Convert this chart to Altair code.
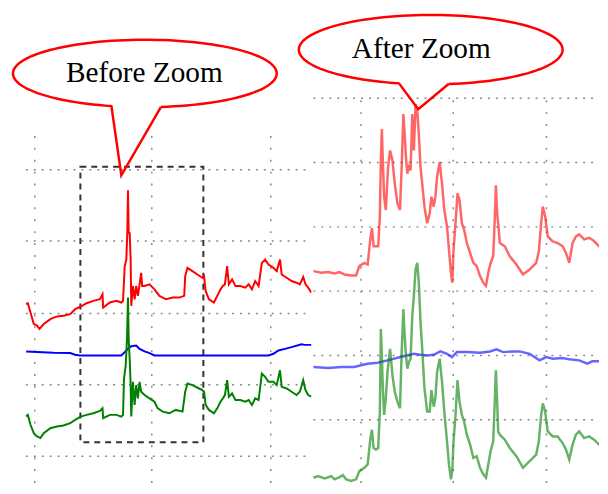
import numpy as np
import pandas as pd
import altair as alt

# ---------------- LEFT PANEL ("Before Zoom") data: time index, amplitude ----------------
L_red_t = [0.3, 2, 4.7, 8, 11.3, 13.7, 18, 24.7, 31.3, 38, 44.7, 49.7, 55.3, 61.3, 68, 74.7, 77.3, 78, 84.7, 91.3,
           96.3, 98, 99.7, 101.3, 102.3, 103, 103.7, 104.7, 105.7, 106.3, 108, 109.7, 111.3, 113, 114.7, 116.3, 117.3,
           119.7, 124.7, 129.7, 134.7, 141.3, 148, 154.7, 159.7, 160.7, 163, 168, 173, 178, 179.7, 181.3, 184.7,
           189.7, 193, 196.3, 198.7, 200.7, 203, 204.7, 208, 211.3, 216.3, 221.3, 224.7, 228, 231.3, 234.7, 238,
           241.3, 244.7, 249.7, 253, 256.3, 258, 263, 268, 273, 276.3, 279.7, 282, 284.7, 288]
L_red_v = [153.3, 154.3, 145, 133.3, 131.7, 128.3, 133.3, 138.3, 141, 141.7, 143.3, 148.3, 151, 154.3, 156.7, 158.3,
           163.3, 150, 155, 156.7, 155, 156.7, 191.7, 198.3, 225, 268.3, 225, 225, 198.3, 151.7, 171.7, 158.3, 171.7,
           161.7, 173.3, 185, 171.7, 171.7, 173.3, 168.3, 161.7, 158.3, 160, 160, 161.7, 181.7, 190, 186.7, 183.3,
           180, 181.7, 166.7, 158.3, 155, 161.7, 168.3, 171.7, 173.3, 191.7, 173.3, 178.3, 171.7, 171.7, 170, 173.3,
           168.3, 176.7, 171.7, 195, 198.3, 193.3, 190, 186.7, 198.3, 183.3, 180, 176.7, 175, 173.3, 180.7, 173.3,
           170, 165]

L_green_t = [0.3, 2, 4.7, 8, 11.3, 14.7, 18, 24.7, 31.3, 38, 44.7, 49.7, 55.3, 61.3, 68, 74.7, 77.3, 78, 84.7, 91.3,
             96.3, 98, 99, 100.7, 102, 103, 103.7, 104.7, 105.7, 106.3, 108, 109.7, 111.3, 113, 114.7, 116.3, 119.7,
             124.7, 129.7, 133, 138, 144.7, 151.3, 158, 160.7, 163, 168, 174.7, 178, 179.7, 181.3, 184.7, 189.7, 193,
             196.3, 198.7, 200.7, 203, 204.7, 208, 211.3, 216.3, 221.3, 224.7, 228, 231.3, 234.7, 238, 241.3, 244.7,
             249.7, 253, 256.3, 258, 263, 268, 273, 276.3, 279.7, 282, 284.7, 288]
L_green_v = [40, 41.7, 31.7, 23.3, 20, 18.3, 23.3, 28.3, 30, 31, 33.3, 36.7, 40, 41.7, 43.3, 45.7, 48.3, 38.3, 41.7,
             41.7, 40, 41.7, 78.3, 91.7, 118.3, 160, 118.3, 98.3, 71.7, 40, 75, 51.7, 71.7, 58.3, 75, 65, 61.7, 58.3,
             55, 48.3, 45, 43.3, 46.7, 45, 65, 73.3, 71.7, 68.3, 66.7, 65, 51.7, 46.7, 43.3, 48.3, 55, 58.3, 61.7,
             76.7, 60, 63.3, 56.7, 56.7, 55, 56.7, 51.7, 58.3, 56.7, 83.3, 80, 75, 75, 71.7, 86.7, 70, 68.3, 65, 61.7,
             65, 76.7, 66.7, 61.7, 60]

L_blue_t = [0.3, 11.3, 28, 44.7, 49.7, 54.7, 78, 96.3, 99.7, 103, 106.3, 111.3, 114.7, 119.7, 124.7, 129.7, 144.7,
            178, 211.3, 244.7, 249.7, 254.7, 261.3, 268, 278, 281.3, 288]
L_blue_v = [105.7, 105, 104.3, 104, 102.3, 101.7, 101.7, 101.7, 105, 108.3, 111, 111.7, 108.3, 105.7, 104, 101.7,
            101.7, 101.7, 101.7, 101.7, 103.3, 106.7, 108.3, 110, 113, 112.3, 112.3]

L_grid_x = [9, 127, 247]
L_grid_y = [0, 72, 144, 217, 289]
L_zoom_box = {"t1": 55, "t2": 179, "a1": 14, "a2": 292}

# ---------------- RIGHT PANEL ("After Zoom") data ----------------
R_red_t = [0, 8, 14.7, 21.3, 26.3, 31.3, 38, 43, 46.3, 51.3, 54.7, 57.3, 59, 60.7, 63, 65.3, 67, 68, 69, 70, 71.3,
           73, 75.3, 77.3, 79.7, 82, 84.7, 87.3, 89, 90.7, 92, 93.3, 94.7, 96.3, 98, 99.7, 101.3, 103, 104.7, 106.3,
           108, 109.7, 112, 114.7, 117.3, 119, 121.3, 123, 124.7, 127.3, 129.7, 132, 134.7, 136.7, 138.7, 140,
           141.3, 143.3, 145.3, 147.3, 149.7, 152, 154.7, 158, 161.3, 164.7, 168, 171.3, 174, 176.3, 178.7, 181.3,
           183, 184, 185.3, 186.3, 188, 193, 198, 204.7, 211.3, 218, 224.7, 227.3, 229.7, 231.3, 233.7, 236.3,
           241.3, 246.3, 251.3, 254.7, 258, 261.3, 264.7, 268, 273, 278, 283, 288, 293, 296]
R_red_v = [214.7, 213, 213.7, 212.3, 213.7, 211.3, 210.3, 210.3, 219.7, 223, 221.3, 246.3, 258, 239.7, 239.7, 239.7,
           269.7, 326.3, 358, 326.3, 289.7, 276.3, 319.7, 336.3, 326.3, 303, 283, 276.3, 319.7, 373, 353, 329.7, 313,
           319.7, 316.3, 373, 336.3, 383, 376.3, 353, 319.7, 303, 279.7, 263, 273, 289.7, 279.7, 289.7, 309.7, 324.7,
           303, 276.3, 259.7, 236.3, 213, 203, 236.3, 263, 293, 286.3, 263, 256.3, 243, 233, 223, 219.7, 209.7, 203,
           199.7, 213, 223, 229.7, 269.7, 301.3, 273, 263, 243, 239.7, 229.7, 221.3, 211.3, 216.3, 223, 234.7, 263,
           279.7, 269.7, 249.7, 244.7, 243, 239.7, 233, 223, 243, 249.7, 251.7, 246.7, 248.3, 245, 239.7, 239.7,
           241.3]

R_green_t = [0, 4.7, 11.3, 18, 21.3, 26.3, 29.7, 33, 38, 43, 46.3, 51.3, 54.7, 57.3, 59, 60.7, 63, 65.3, 67, 68, 69,
             70, 71.3, 73, 74.7, 77.3, 79.7, 82, 84.7, 87.3, 89, 90.7, 92, 93.3, 94.7, 96.3, 98, 99.7, 101.3, 103,
             104.7, 106.3, 108, 109.7, 112, 114.7, 117.3, 119, 121.3, 123, 124.7, 127.3, 129.7, 132, 134.7, 136.7,
             138.7, 140, 141.3, 143.3, 145.3, 147.3, 149.7, 152, 154.7, 158, 161.3, 164.7, 168, 171.3, 174, 176.3,
             178.7, 181.3, 183, 184, 185.3, 186.3, 188, 193, 198, 204.7, 211.3, 218, 224.7, 227.3, 229.7, 231.3,
             233.7, 236.3, 241.3, 246.3, 251.3, 254.7, 258, 261.3, 264.7, 268, 273, 278, 283, 288, 293, 296]
R_green_v = [6.3, 8, 5.7, 8, 4.7, 7, 9, 4.7, 3, 4.7, 13, 16.3, 19.7, 44.7, 54.7, 36.3, 34.7, 36.3, 73, 156.3, 129.7,
             96.3, 69.7, 86.3, 113, 136.3, 109.7, 93, 83, 76.3, 133, 176.3, 149.7, 129.7, 116.3, 123, 126.3, 169.7,
             189.7, 216.3, 223, 203, 163, 136.3, 96.3, 73, 73, 94.7, 78, 86.3, 113, 126.3, 103, 73, 43, 19.7, 4.7,
             13, 43, 69.7, 104.7, 83, 69.7, 63, 49.7, 39.7, 26.3, 28, 16.3, 9.7, 6.3, 19.7, 33, 43, 86.3, 114.7,
             83, 53, 49.7, 44.7, 36.3, 28, 16.3, 23, 29.7, 43, 69.7, 81.3, 73, 53, 48, 48, 41.3, 34.7, 24.7, 39.7,
             49.7, 53, 46.3, 48, 44.7, 39.7, 39.7, 41.3]

R_blue_t = [0, 14.7, 28, 41.3, 48, 54.7, 64.7, 74.7, 88, 101.3, 108, 114.7, 121.3, 128, 134.7, 139.7, 144.7, 154.7,
            168, 178, 184.7, 191.3, 201.3, 208, 218, 228, 234.7, 241.3, 251.3, 258, 268, 276.3, 281.3, 296]
R_blue_v = [118, 117, 118, 118, 119.7, 121.3, 122.3, 124.7, 128, 131.3, 130.3, 129.7, 130.3, 133.7, 131.3, 128, 133,
            133, 132.3, 133.7, 135.7, 133, 133.7, 133.7, 131.3, 124.7, 128, 126.3, 127, 125.7, 124.7, 121.3, 123.7,
            123.7]

R_grid_x = [48, 141, 235]
R_grid_y = [64.8, 129.7, 194.5, 259.3, 324.2, 389]

LABELS = ["Before Zoom", "After Zoom"]

# ---------------- helpers ----------------
def series_df(pairs):
    frames = []
    for name, ts, vs in pairs:
        frames.append(pd.DataFrame({"t": ts, "v": vs, "s": name}))
    return pd.concat(frames, ignore_index=True)


def bubble(cx, cy, rx, ry, base_right, base_left, tip):
    # speech bubble outline: ellipse arc between the two pointer bases, then the pointer
    th0 = -np.arccos((base_right - cx) / rx)
    th1 = -np.arccos((base_left - cx) / rx) + 2 * np.pi
    th = np.linspace(th0, th1, 120)
    xs = list(cx + rx * np.cos(th)) + [tip[0], cx + rx * np.cos(th0)]
    ys = list(cy + ry * np.sin(th)) + [tip[1], cy + ry * np.sin(th0)]
    return pd.DataFrame({"t": xs, "v": ys, "i": range(len(xs))})


COLORS = alt.Scale(domain=["red", "blue", "green"], range=["#ff0000", "#0000ff", "#008000"])
GRID = "#8a8a8a"
H = 474


def panel(xdom, ydom, width, lines, gx, gy, gx_top, g_xmax, line_w, line_op, bub, text_pos, label, box=None):
    X = alt.X("t:Q", scale=alt.Scale(domain=xdom, nice=False, zero=False), axis=None)
    Y = alt.Y("v:Q", scale=alt.Scale(domain=ydom, nice=False, zero=False), axis=None)

    hgrid = alt.Chart(pd.DataFrame({"v": gy, "t": 0, "t2": g_xmax})).mark_rule(
        color=GRID, strokeDash=[2, 6], strokeWidth=1.5
    ).encode(y=Y, x=X, x2="t2:Q")
    vgrid = alt.Chart(pd.DataFrame({"t": gx, "v": ydom[0], "v2": gx_top})).mark_rule(
        color=GRID, strokeDash=[2, 10], strokeWidth=1.5
    ).encode(x=X, y=Y, y2="v2:Q")

    layers = [hgrid, vgrid]
    if box is not None:
        layers.append(
            alt.Chart(pd.DataFrame({"t": [box["t1"]], "t2": [box["t2"]], "v": [box["a1"]], "v2": [box["a2"]]}))
            .mark_rect(fillOpacity=0, stroke="#333333", strokeWidth=2, strokeDash=[6, 5])
            .encode(x=X, x2="t2:Q", y=Y, y2="v2:Q")
        )
    layers.append(
        alt.Chart(lines).mark_line(strokeWidth=line_w, opacity=line_op, clip=True).encode(
            x=X, y=Y, color=alt.Color("s:N", scale=COLORS, legend=None), order="t:Q"
        )
    )
    layers.append(
        alt.Chart(bub).mark_line(color="#ff0000", strokeWidth=2.5, strokeJoin="miter").encode(x=X, y=Y, order="i:Q")
    )
    layers.append(
        alt.Chart(pd.DataFrame({"t": [text_pos[0]], "v": [text_pos[1]], "label": [label]}))
        .mark_text(font="Liberation Serif", fontSize=29.5, color="black", align="center", baseline="alphabetic")
        .encode(x=X, y=Y, text="label:N")
    )
    return alt.layer(*layers).properties(width=width, height=H)


left_lines = series_df([("red", L_red_t, L_red_v), ("blue", L_blue_t, L_blue_v), ("green", L_green_t, L_green_v)])
right_lines = series_df([("red", R_red_t, R_red_v), ("blue", R_blue_t, R_blue_v), ("green", R_green_t, R_green_v)])

left = panel(
    xdom=[-14, 288], ydom=[-27, 447], width=302, lines=left_lines, gx=L_grid_x, gy=L_grid_y, gx_top=327,
    g_xmax=288, line_w=2, line_op=1.0,
    bub=bubble(120, 386, 133, 34, 136.3, 86.3, (96.3, 283.3)), text_pos=(119.5, 377), label=LABELS[0],
    box=L_zoom_box,
)
right = panel(
    xdom=[-2, 288], ydom=[1, 475], width=290, lines=right_lines, gx=R_grid_x, gy=R_grid_y, gx_top=395,
    g_xmax=288, line_w=2.5, line_op=0.6,
    bub=bubble(118.3, 438, 133, 35, 136.3, 86.3, (105.7, 378)), text_pos=(108.8, 429.7), label=LABELS[1],
)

chart = (
    alt.hconcat(left, right, spacing=0, bounds="flush")
    .properties(padding=0)
    .configure_view(stroke=None)
)

chart.save("out.html", embed_options={"renderer": "svg", "actions": False})
